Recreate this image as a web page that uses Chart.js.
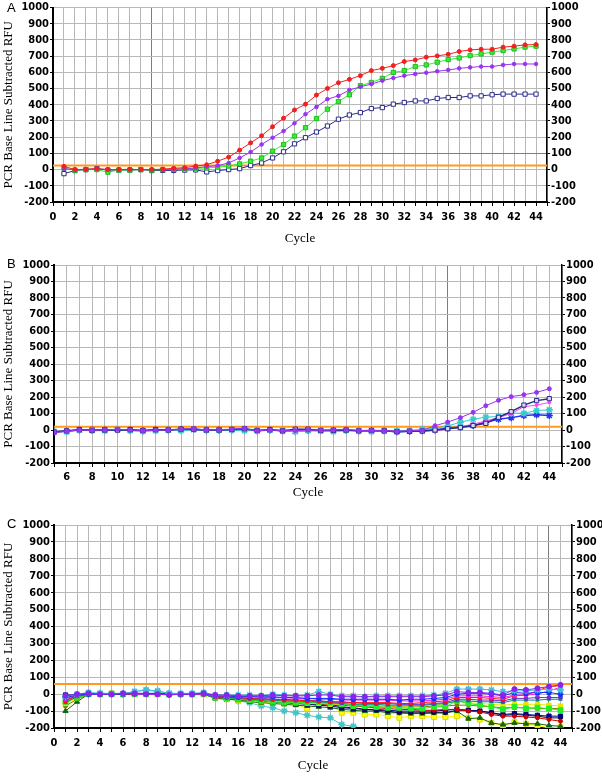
<!DOCTYPE html>
<html lang="en">
<head>
<meta charset="UTF-8">
<title>PCR Base Line Subtracted RFU</title>
<script src="https://cdn.jsdelivr.net/npm/chart.js"></script>
<style>
    body {
        margin: 0;
        background: #fff;
        width: 602px;
        height: 778px;
        overflow: hidden;
        position: relative;
        font-family: 'Liberation Sans', Arial, sans-serif;
    }
    .panel {
        position: absolute;
        left: 0;
        width: 602px;
    }
    .letter {
        position: absolute;
        left: 7px;
        font-size: 13px;
        color: #000;
    }
</style>
</head>
<body>
<div class="panel" style="top:0px"><canvas id="chartA" width="602" height="250"></canvas></div>
<div class="panel" style="top:250px"><canvas id="chartB" width="602" height="260"></canvas></div>
<div class="panel" style="top:510px"><canvas id="chartC" width="602" height="268"></canvas></div>
<div class="letter" style="top:0px">A</div>
<div class="letter" style="top:256px">B</div>
<div class="letter" style="top:516px">C</div>

<script>
// cycles
const cyclesA = [1,2,3,4,5,6,7,8,9,10,11,12,13,14,15,16,17,18,19,20,21,22,23,24,25,26,27,28,29,30,31,32,33,34,35,36,37,38,39,40,41,42,43,44];
const cyclesB = [5,6,7,8,9,10,11,12,13,14,15,16,17,18,19,20,21,22,23,24,25,26,27,28,29,30,31,32,33,34,35,36,37,38,39,40,41,42,43,44];
const cyclesC = cyclesA;

// threshold lines (orange)
const thresholdA = 25;
const thresholdB = 20;
const thresholdC = 60;

// panel A
const aRed = [20,0,2,5,0,0,2,0,0,3, 8,12,22,30,52,77,120,165,209,265, 317,368,404,460,501,536,557,580,611,625, 642,667,677,694,702,712,729,739,743,743, 756,762,770,772];
const aPurple = [5,0,0,5,0,0,0,0,0,0, 3,5,10,18,25,41,72,108,155,197, 238,286,342,387,435,455,491,511,528,549, 565,580,590,598,607,615,625,631,636,636, 646,652,652,652];
const aGreen = [8,-3,0,0,-16,-3,-3,0,-3,0, 2,5,8,10,15,22,35,52,72,114, 155,207,259,315,373,420,462,518,538,563, 600,611,636,646,663,679,689,704,714,725, 735,745,756,762];
const aNavy = [-25,-6,0,5,-3,-3,-3,0,-6,-5, -5,-3,-2,-14,-6,0,6,25,41,72, 110,159,197,232,269,311,337,352,377,383, 404,414,424,424,439,445,445,455,455,462, 466,466,466,466];

// panel B
const bPurple = [-15,-8,0,-2,0,5,0,-5,0,0, 5,8,0,2,5,10,-5,0,-5,-3, 0,-2,0,2,-3,-3,-5,-8,-5,-3, 26,48,75,107,147,180,202,214,228,250];
const bNavy = [-12,-5,2,-3,0,0,2,-3,2,0, 5,5,0,0,3,8,-3,2,-5,5, 5,-3,-2,0,-5,-3,-5,-10,-8,-6, 0,8,15,27,40,77,111,151,178,190];
const bMagenta = [-10,-5,0,-3,0,3,0,-3,0,0, 3,5,0,0,3,5,-3,0,-3,-3, 0,-3,-2,0,-3,-3,-5,-8,-8,-5, -5,5,20,35,55,75,100,141,151,167];
const bCyan = [-8,-10,0,-3,-5,3,-5,-8,-5,0, -5,3,0,-3,0,-5,-3,0,-3,-10, -3,-5,-10,-3,-5,-10,-5,-5,-3,5, 10,25,47,65,78,82,102,102,118,122];
const bBlue = [-12,-8,0,0,0,2,0,-5,0,0, 3,3,0,0,2,5,-5,0,-5,-8, -3,-3,-3,-2,-5,-5,-5,-10,-8,-5, 0,10,18,28,47,65,75,88,92,88];

// panel C
const cPurple = [-10,0,5,0,0,5,5,0,0,-5, 0,0,5,-5,-5,-10,-10,-10,-5,-10, -10,-10,-5,-5,-15,-15,-15,-15,-15,-15, -15,-15,-10,-5,15,10,10,5,-5,30, 25,35,45,55];
const cCyanHi = [-15,0,10,5,5,5,15,25,20,5, 5,5,10,-5,-5,-5,-5,-10,0,-5, -10,-5,15,0,-10,-10,-15,-10,-10,-10, -10,-10,-5,5,30,30,30,25,15,20, 20,25,30,25];
const cBlue = [-20,-5,0,0,0,0,5,5,5,0, 0,0,5,-10,-10,-15,-15,-15,-15,-20, -20,-25,-25,-25,-30,-30,-30,-30,-30,-35, -30,-30,-25,-20,0,5,5,0,-10,10, 5,10,10,0];
const cMagenta = [-30,-5,0,0,0,5,0,0,0,0, 0,0,0,-10,-10,-15,-15,-20,-20,-20, -25,-25,-30,-30,-35,-35,-35,-35,-35,-40, -40,-40,-35,-30,-10,-10,-10,-15,-20,-5, -5,0,20,40];
const cRed = [-40,-10,0,0,0,0,0,5,0,0, 0,0,0,-15,-15,-20,-25,-30,-30,-35, -35,-40,-40,-45,-45,-50,-50,-50,-50,-55, -55,-50,-45,-40,-20,-20,-20,-25,-30,-10, -5,20,45,50];
const cViolet = [-25,-5,0,0,0,0,0,0,0,0, 0,0,0,-15,-20,-20,-25,-25,-30,-30, -35,-35,-40,-45,-50,-50,-55,-55,-55,-60, -60,-60,-55,-50,-30,-30,-35,-35,-40,-25, -25,-20,-20,-20];
const cTeal = [-50,-15,0,0,0,0,5,0,0,0, 0,0,0,-20,-20,-25,-30,-35,-35,-40, -40,-45,-45,-50,-55,-60,-60,-60,-65,-65, -65,-65,-60,-55,-40,-40,-45,-45,-50,-35, -35,-35,-30,-30];
const cGreen = [-45,-20,0,0,0,0,0,0,0,0, 0,0,0,-20,-25,-30,-35,-40,-45,-50, -50,-50,-45,-50,-60,-70,-70,-75,-80,-80, -85,-85,-75,-75,-40,-55,-65,-75,-90,-75, -85,-80,-85,-95];
const cYellowLo = [-60,-25,5,0,5,0,0,0,0,0, 0,0,0,-20,-30,-35,-40,-50,-50,-55, -60,-85,-60,-60,-110,-110,-120,-120,-130,-140, -130,-130,-135,-135,-130,-140,-150,-170,-185,-165, -175,-185,-200,-195];
const cYellowHi = [-55,-20,5,0,0,0,0,0,0,0, 0,0,0,-15,-20,-25,-30,-35,-40,-45, -50,-55,-55,-60,-60,-60,-65,-65,-70,-70, -70,-65,-65,-60,-40,-50,-55,-60,-65,-60, -60,-60,-65,-70];
const cDkGreen = [-100,-45,0,0,0,0,0,5,0,0, 0,0,0,-25,-30,-35,-45,-50,-55,-60, -65,-70,-75,-80,-90,-95,-100,-100,-110,-110, -115,-115,-110,-110,-100,-145,-140,-170,-180,-170, -175,-175,-185,-190];
const cNavy = [-5,-5,0,0,0,0,0,0,0,0, 0,0,0,-20,-25,-30,-35,-40,-45,-50, -55,-60,-65,-70,-80,-85,-90,-90,-95,-100, -100,-100,-100,-95,-90,-95,-100,-110,-120,-115, -120,-125,-130,-130];
const cBlack = [-10,-5,0,0,0,0,0,0,0,0, 0,0,0,-20,-25,-30,-35,-40,-40,-45, -50,-55,-60,-60,-75,-80,-90,-95,-100,-110, -110,-110,-110,-110,-95,-95,-100,-110,-125,-120, -125,-130,-140,-140];
const cDkRed = [-35,-10,0,0,0,0,0,0,0,0, 0,0,0,-20,-25,-25,-30,-35,-40,-45, -50,-55,-55,-60,-65,-70,-75,-80,-85,-90, -90,-95,-95,-90,-90,-100,-105,-120,-130,-130, -135,-140,-150,-160];
const cOlive = [-70,-30,0,0,0,0,0,0,0,0, 0,0,0,-15,-20,-25,-30,-35,-40,-45, -45,-50,-50,-55,-60,-65,-65,-70,-70,-75, -75,-75,-70,-70,-65,-65,-70,-75,-80,-80, -80,-85,-85,-85];
const cCyanLo = [-20,-5,5,5,0,0,15,25,15,5, 0,0,5,-10,-20,-40,-50,-70,-80,-100, -110,-125,-135,-140,-180,-190];

const tickFont = { family: "'Liberation Sans Narrow', 'DejaVu Sans Condensed', 'Arial Narrow', sans-serif", size: 11, weight: 'bold' };
const titleFont = { family: "'Liberation Serif', 'Times New Roman', serif", size: 13 };

function pts(xs, ys) {
    return ys.map((y, i) => ({ x: xs[i], y: y }));
}

function series(xs, ys, color, style, extra) {
    return Object.assign({
        data: pts(xs, ys),
        borderColor: color,
        backgroundColor: color,
        borderWidth: 1,
        pointStyle: style,
        pointRadius: 2,
        pointBorderWidth: 1,
        pointBorderColor: color,
        pointBackgroundColor: color,
        tension: 0
    }, extra || {});
}

function threshold(xmin, value) {
    return {
        data: [{ x: xmin, y: value }, { x: 45, y: value }],
        borderColor: '#ff9a1f',
        borderWidth: 2,
        pointRadius: 0
    };
}

function makeChart(id, o) {
    const gridColor = (dark) => (ctx) => (ctx.tick && ctx.tick.value === dark) ? '#7d7d7d' : '#b8b8b8';
    return new Chart(document.getElementById(id), {
        type: 'line',
        data: { datasets: o.datasets },
        options: {
            responsive: false,
            animation: false,
            events: [],
            layout: { padding: { top: o.top, bottom: 0, left: 0, right: 0 } },
            plugins: { legend: { display: false }, tooltip: { enabled: false } },
            scales: {
                x: {
                    type: 'linear', min: o.xmin, max: 45,
                    afterFit: (s) => { s.height = o.xh; },
                    ticks: {
                        stepSize: 1, autoSkip: false, maxRotation: 0, font: tickFont, color: '#000', padding: o.xpad,
                        callback: (v) => (v % 2 === 0 && v <= 44) ? String(v) : ''
                    },
                    grid: { color: gridColor(o.darkX), tickColor: '#000', tickLength: 4 },
                    border: { color: '#000', width: 2 },
                    title: { display: true, text: 'Cycle', font: titleFont, color: '#000', padding: { top: 0, bottom: o.cyclePad } }
                },
                y: {
                    position: 'left', min: -200, max: 1000,
                    afterFit: (s) => { s.width = o.left; },
                    ticks: { stepSize: 100, font: tickFont, color: '#000', padding: 1, callback: (v) => String(v) },
                    grid: { color: gridColor(o.darkY), tickColor: '#000', tickLength: 3 },
                    border: { color: '#000', width: 2 },
                    title: { display: true, text: 'PCR Base Line Subtracted RFU', font: titleFont, color: '#000', padding: { top: 1, bottom: 0 } }
                },
                y2: {
                    position: 'right', min: -200, max: 1000,
                    afterFit: (s) => { s.width = 602 - o.right; },
                    ticks: { stepSize: 100, font: tickFont, color: '#000', padding: 1, callback: (v) => String(v) },
                    grid: { drawOnChartArea: false, tickColor: '#000', tickLength: 3 },
                    border: { color: '#000', width: 1.5 }
                }
            }
        }
    });
}

// Panel A
makeChart('chartA', {
    top: 7, xh: 48, xmin: 0, left: 53, right: 547, xpad: 5, cyclePad: 4, darkX: 9, darkY: 100,
    datasets: [
        series(cyclesA, aRed, '#f02020', 'circle'),
        series(cyclesA, aPurple, '#9a33f0', 'circle', { pointRadius: 1.8 }),
        series(cyclesA, aGreen, '#33ee33', 'rect', { pointRadius: 3, pointBorderColor: '#22bb22' }),
        series(cyclesA, aNavy, '#2a2a8a', 'rect', { pointRadius: 3, pointBackgroundColor: '#ffffff' }),
        threshold(0, thresholdA)
    ]
});

// Panel B
makeChart('chartB', {
    top: 15, xh: 47, xmin: 5, left: 54, right: 562, xpad: 4, cyclePad: 10, darkX: 36, darkY: null,
    datasets: [
        series(cyclesB, bPurple, '#9a33f0', 'circle'),
        series(cyclesB, bNavy, '#2a2a8a', 'rect', { pointRadius: 3, pointBackgroundColor: '#d8d8f0', borderWidth: 1.5 }),
        series(cyclesB, bMagenta, '#ff44ff', 'circle', { pointRadius: 1.5 }),
        series(cyclesB, bCyan, '#33cccc', 'star', { pointRadius: 3.5, pointBorderWidth: 1.5 }),
        series(cyclesB, bBlue, '#2233ee', 'star', { pointRadius: 3.5, pointBorderWidth: 1.5, borderWidth: 1.5 }),
        threshold(5, thresholdB)
    ]
});

// Panel C
makeChart('chartC', {
    top: 15, xh: 50, xmin: 0, left: 54, right: 572, xpad: 5, cyclePad: 5, darkX: 43, darkY: null,
    datasets: [
        series(cyclesC, cPurple, '#8a22ee', 'circle', { pointRadius: 2.5 }),
        series(cyclesC, cCyanHi, '#44bbdd', 'star', { pointRadius: 3.5, pointBorderWidth: 1.5 }),
        series(cyclesC, cBlue, '#1030ff', 'star', { pointRadius: 3, pointBorderWidth: 1.5 }),
        series(cyclesC, cMagenta, '#ee22ee', 'circle'),
        series(cyclesC, cRed, '#ff1010', 'circle'),
        series(cyclesC, cViolet, '#6633cc', 'circle'),
        series(cyclesC, cTeal, '#008888', 'triangle'),
        series(cyclesC, cGreen, '#22ee22', 'rect', { pointRadius: 3.5 }),
        series(cyclesC, cYellowHi, '#e6e600', 'rect', { pointRadius: 3 }),
        series(cyclesC, cOlive, '#808000', 'circle'),
        series(cyclesC, cDkRed, '#cc0000', 'circle'),
        series(cyclesC, cNavy, '#000080', 'rect', { pointRadius: 3 }),
        series(cyclesC, cBlack, '#111111', 'circle'),
        series(cyclesC, cDkGreen, '#116611', 'triangle', { pointRadius: 3 }),
        series(cyclesC, cYellowLo, '#ffff00', 'rect', { pointRadius: 3.5, pointBorderColor: '#dddd00' }),
        series(cyclesC, cCyanLo, '#44c4c4', 'star', { pointRadius: 3.5, pointBorderWidth: 1.5 }),
        threshold(0, thresholdC)
    ]
});
</script>
</body>
</html>
